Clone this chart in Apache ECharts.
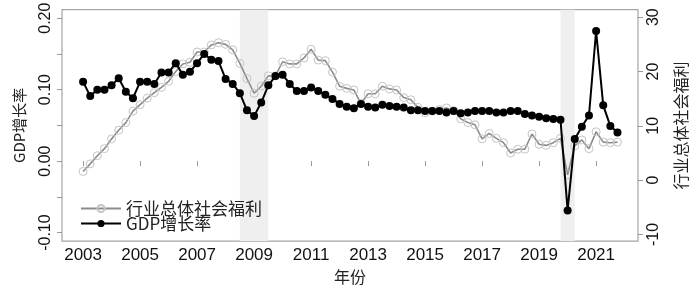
<!DOCTYPE html>
<html>
<head>
<meta charset="utf-8">
<script src="https://cdn.jsdelivr.net/npm/echarts@6/dist/echarts.min.js"></script>
<style>
  html, body { margin: 0; padding: 0; background: #fff; }
  #chart { width: 700px; height: 290px; }
</style>
</head>
<body>
<div id="chart"></div>
<script>
// quarterly series, 2003Q1 .. 2021Q4
var startYear = 2003;
var gdpGrowth = [
  0.111, 0.091, 0.100, 0.100,
  0.106, 0.116, 0.097, 0.088,
  0.111, 0.111, 0.108, 0.124,
  0.124, 0.137, 0.121, 0.125,
  0.137, 0.150, 0.142, 0.140,
  0.115, 0.108, 0.095, 0.071,
  0.063, 0.082, 0.106, 0.119,
  0.121, 0.108, 0.098, 0.098,
  0.103, 0.098, 0.093, 0.087,
  0.080, 0.076, 0.074, 0.080,
  0.076, 0.075, 0.079, 0.077,
  0.076, 0.075, 0.071, 0.071,
  0.070, 0.070, 0.070, 0.068,
  0.070, 0.067, 0.068, 0.070,
  0.070, 0.070, 0.068, 0.068,
  0.070, 0.070, 0.066, 0.064,
  0.062, 0.060, 0.059, 0.058,
  -0.069, 0.031, 0.048, 0.064,
  0.182, 0.078, 0.049, 0.040
];
var welfare = [
  1.6, 3.0, 4.5, 5.8,
  7.6, 9.2, 10.6, 12.7,
  13.9, 15.1, 16.1, 17.1,
  18.2, 20.0, 21.4, 21.7,
  23.6, 23.6, 24.9, 25.3,
  25.0, 24.0, 21.5, 18.7,
  16.0, 17.3, 19.2, 19.2,
  21.8, 21.4, 21.4, 22.5,
  24.1, 22.1, 22.0, 19.9,
  17.3, 16.9, 16.6, 14.1,
  15.9, 15.9, 17.3, 16.8,
  16.6, 15.2, 14.8, 13.4,
  12.4, 12.7, 13.0, 13.3,
  12.8, 11.3, 10.6, 10.2,
  7.6, 8.6, 7.7, 6.9,
  5.0, 5.7, 5.7, 8.5,
  6.6, 6.4, 6.9, 7.7,
  1.0, 6.3, 7.4, 5.8,
  8.9, 7.0, 6.9, 7.0
];
var yearTicks = [2003, 2005, 2007, 2009, 2011, 2013, 2015, 2017, 2019, 2021];
var leftTicks = [-0.1, -0.05, 0, 0.05, 0.1, 0.15, 0.2];
var leftLabels = [-0.1, 0, 0.1, 0.2];
var rightTicks = [-10, 0, 10, 20, 30];
var recessions = [[2008.5, 2009.5], [2019.75, 2020.25]];

var latin = "'Liberation Sans', Arial, 'Noto Sans CJK SC'";
var cjk = "'Noto Sans CJK SC', 'Liberation Sans'";

function pairs(vals) {
  var out = [];
  for (var i = 0; i < vals.length; i++) {
    out.push([startYear + i / 4, vals[i]]);
  }
  return out;
}

var myChart = echarts.init(document.getElementById("chart"), null, { renderer: "canvas" });

var option = {
  animation: false,
  backgroundColor: "#fff",
  grid: {
    left: 62, right: 62, top: 7, bottom: 38,
    show: true, borderColor: "#a6a6a6", borderWidth: 1.2
  },
  legend: {
    orient: "vertical",
    left: 75, top: 195,
    itemWidth: 40, itemHeight: 9, itemGap: -2,
    textStyle: { fontFamily: cjk, fontSize: 17, color: "#222", lineHeight: 15 },
    data: ["行业总体社会福利", "GDP增长率"]
  },
  xAxis: {
    type: "value",
    min: 2002.26, max: 2022.47,
    name: "年份", nameLocation: "middle", nameGap: 21,
    nameTextStyle: { fontFamily: cjk, fontSize: 16, color: "#222" },
    axisLine: { show: false },
    splitLine: { show: false },
    axisTick: { show: true, length: 5, lineStyle: { color: "#999" }, customValues: yearTicks },
    axisLabel: {
      fontFamily: latin, fontSize: 17, color: "#111", margin: 6, customValues: yearTicks,
      formatter: function (v) { return String(v); }
    }
  },
  yAxis: [
    {
      type: "value", position: "left",
      min: -0.1119, max: 0.2119,
      name: "GDP增长率", nameLocation: "middle", nameGap: 35, nameRotate: 90,
      nameTextStyle: { fontFamily: cjk, fontSize: 15, color: "#222" },
      axisLine: { show: false },
      splitLine: { show: false },
      axisTick: { show: true, length: 5, lineStyle: { color: "#999" }, customValues: leftTicks },
      axisLabel: {
        fontFamily: latin, fontSize: 16, color: "#111", margin: 8, rotate: 90,
        customValues: leftLabels,
        formatter: function (v) { return v.toFixed(2); }
      }
    },
    {
      type: "value", position: "right",
      min: -11.22, max: 31.39,
      name: "行业总体社会福利", nameLocation: "middle", nameGap: 35, nameRotate: 90,
      nameTextStyle: { fontFamily: cjk, fontSize: 16, color: "#222" },
      axisLine: { show: false },
      splitLine: { show: false },
      axisTick: { show: true, length: 5, lineStyle: { color: "#999" }, customValues: rightTicks },
      axisLabel: {
        fontFamily: latin, fontSize: 16, color: "#111", margin: 8, rotate: 90,
        customValues: rightTicks
      }
    }
  ],
  series: [
    {
      // shaded periods
      name: "bands", type: "line", data: [], z: 0, silent: true,
      markArea: {
        silent: true,
        itemStyle: { color: "#efefef" },
        data: recessions.map(function (r) { return [{ xAxis: r[0] }, { xAxis: r[1] }]; })
      }
    },
    {
      name: "行业总体社会福利", type: "line", yAxisIndex: 1, z: 2,
      data: pairs(welfare),
      symbol: "circle", symbolSize: 8, showAllSymbol: true,
      lineStyle: { color: "#8c8c8c", width: 1.6 },
      itemStyle: { color: "rgba(255,255,255,0)", borderColor: "#c4c4c4", borderWidth: 1 }
    },
    {
      name: "GDP增长率", type: "line", yAxisIndex: 0, z: 3,
      data: pairs(gdpGrowth),
      symbol: "circle", symbolSize: 8, showAllSymbol: true,
      lineStyle: { color: "#000", width: 2 },
      itemStyle: { color: "#000" }
    }
  ]
};

myChart.setOption(option);
</script>
</body>
</html>
